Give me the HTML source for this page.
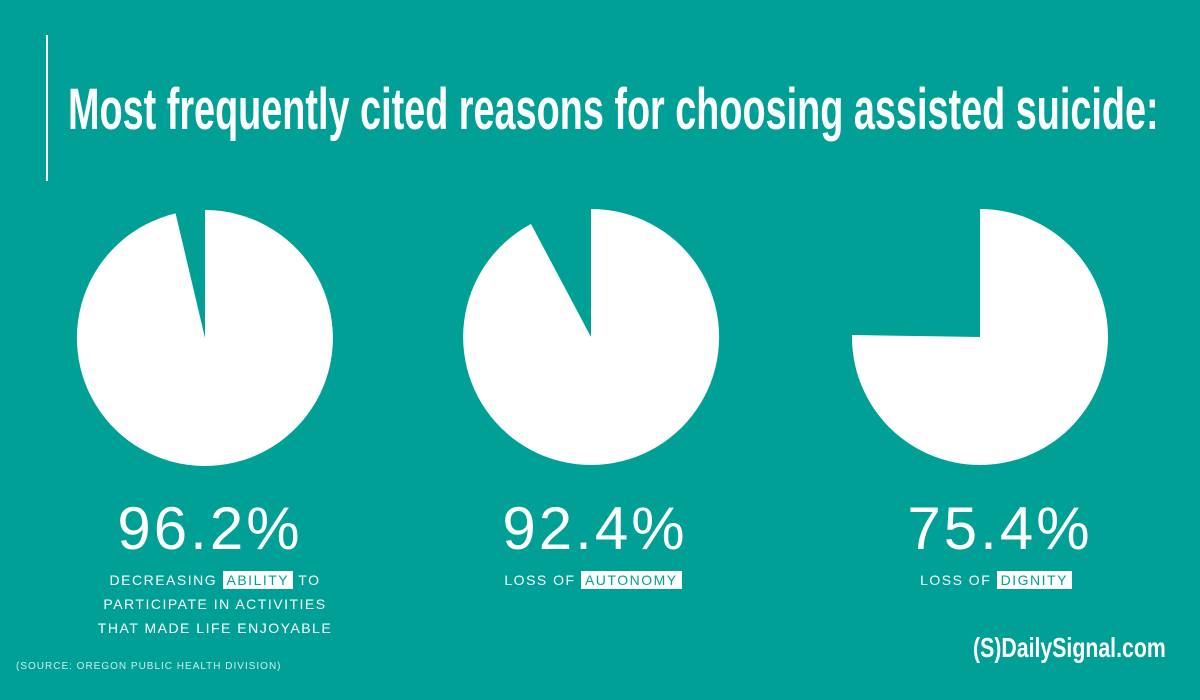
<!DOCTYPE html>
<html><head><style>
body{margin:0;width:1200px;height:700px;background:#00a096;overflow:hidden;position:relative;font-family:"Liberation Sans",sans-serif;color:#fff}
.t{position:absolute;left:68px;top:81px;font-weight:bold;font-size:58px;line-height:1;white-space:nowrap;transform-origin:0 0;transform:scaleX(0.652);letter-spacing:0px}
.bar{position:absolute;left:46px;top:35px;width:2px;height:146px;background:#fff}
.p{position:absolute;width:300px;text-align:center;font-size:60px;font-weight:300;letter-spacing:3px;top:494px}
.l{position:absolute;width:340px;text-align:center;font-size:14px;letter-spacing:1.5px;line-height:24px;top:568px}
.h{background:#fff;color:#00a096;padding:1px 4px}
.s{position:absolute;left:16px;top:661px;font-size:10px;letter-spacing:1px;color:#cdeeea}
.logo{position:absolute;left:973px;top:634px;font-weight:bold;font-size:28px;line-height:1;white-space:nowrap;transform-origin:0 0;transform:scaleX(0.76)}
</style></head><body>
<div class="bar"></div>
<div class="t">Most frequently cited reasons for choosing assisted suicide:</div>
<svg width="1200" height="700" style="position:absolute;left:0;top:0">
<path d="M205 338 L205 210 A128 128 0 1 1 175.6 213.4 Z" fill="#fff"/>
<path d="M591 337 L591 209 A128 128 0 1 1 531 224 Z" fill="#fff"/>
<path d="M980 337 L980 209 A128 128 0 1 1 852 335 Z" fill="#fff"/>
</svg>
<div class="p" style="left:60px">96.2%</div>
<div class="p" style="left:445px">92.4%</div>
<div class="p" style="left:850px">75.4%</div>
<div class="l" style="left:45px">DECREASING <span class="h">ABILITY</span> TO<br>PARTICIPATE IN ACTIVITIES<br>THAT MADE LIFE ENJOYABLE</div>
<div class="l" style="left:423px">LOSS OF <span class="h">AUTONOMY</span></div>
<div class="l" style="left:826px">LOSS OF <span class="h">DIGNITY</span></div>
<div class="s">(SOURCE: OREGON PUBLIC HEALTH DIVISION)</div>
<div class="logo">(S)DailySignal.com</div>
</body></html>
